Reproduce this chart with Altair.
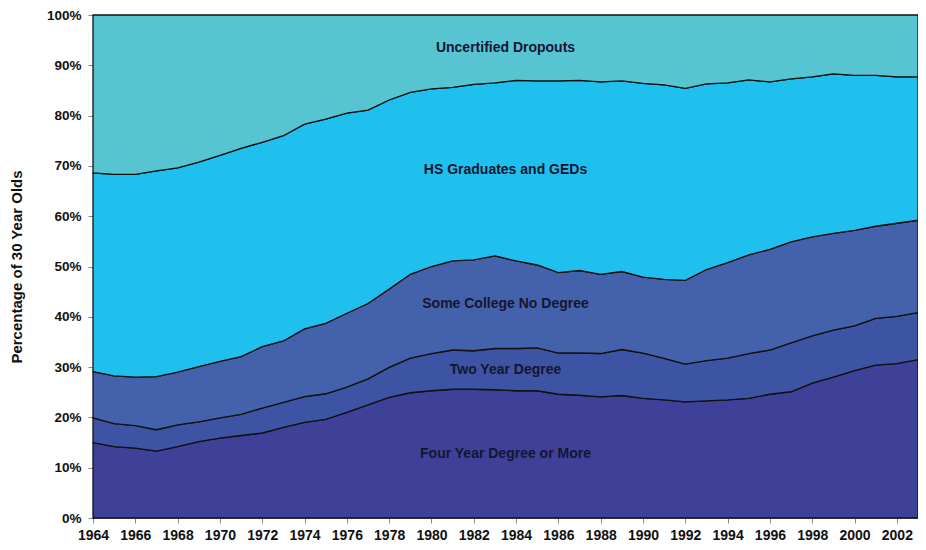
import altair as alt
import pandas as pd

years = list(range(1964, 2004))

four_year = [15.0, 14.2, 13.9, 13.3, 14.2, 15.2, 15.9, 16.4, 16.9, 18.0,
             19.0, 19.6, 21.0, 22.5, 24.0, 24.9, 25.3, 25.6, 25.6, 25.5,
             25.3, 25.3, 24.6, 24.4, 24.1, 24.35, 23.8, 23.5, 23.1, 23.3,
             23.5, 23.8, 24.6, 25.1, 26.8, 28.0, 29.3, 30.4, 30.7, 31.5]

two_year = [4.9, 4.55, 4.45, 4.25, 4.3, 3.9, 4.0, 4.2, 4.95, 5.0,
            5.15, 5.1, 5.0, 5.15, 5.95, 6.9, 7.4, 7.8, 7.65, 8.2,
            8.4, 8.5, 8.2, 8.4, 8.6, 9.15, 9.0, 8.25, 7.5, 8.0,
            8.3, 8.9, 8.8, 9.7, 9.4, 9.35, 8.9, 9.3, 9.4, 9.35]

some_college = [9.2, 9.5, 9.65, 10.55, 10.5, 11.0, 11.25, 11.5, 12.2, 12.2,
                13.45, 14.0, 14.7, 15.0, 15.55, 16.65, 17.3, 17.7, 18.05, 18.4,
                17.4, 16.5, 16.0, 16.4, 15.75, 15.5, 15.1, 15.7, 16.65, 18.1,
                18.95, 19.6, 20.0, 20.1, 19.7, 19.25, 19.0, 18.3, 18.5, 18.35]

hs_ged = [39.5, 40.05, 40.3, 40.9, 40.6, 40.65, 40.95, 41.4, 40.65, 40.8,
          40.7, 40.6, 39.8, 38.45, 37.6, 36.15, 35.3, 34.5, 34.9, 34.4,
          35.9, 36.6, 38.1, 37.8, 38.25, 37.9, 38.5, 38.65, 38.15, 36.9,
          35.75, 34.8, 33.3, 32.4, 31.8, 31.7, 30.8, 30.0, 29.1, 28.5]

dropouts = [31.4, 31.7, 31.7, 31.0, 30.4, 29.25, 27.9, 26.5, 25.3, 24.0,
            21.7, 20.7, 19.5, 18.9, 16.9, 15.4, 14.7, 14.4, 13.8, 13.5,
            13.0, 13.1, 13.1, 13.0, 13.3, 13.1, 13.6, 13.9, 14.6, 13.7,
            13.5, 12.9, 13.3, 12.7, 12.3, 11.7, 12.0, 12.0, 12.3, 12.3]

categories = ["Four Year Degree or More", "Two Year Degree",
              "Some College No Degree", "HS Graduates and GEDs",
              "Uncertified Dropouts"]
colors = ["#3F4199", "#3D54A4", "#4462AC", "#1FBFEE", "#57C4D2"]

# label anchor points (year, percent) for the in-chart category labels
label_years = [1983.5, 1983.5, 1983.5, 1983.5, 1983.5]
label_pcts = [12.7, 29.5, 42.6, 69.1, 93.5]

series = [four_year, two_year, some_college, hs_ged, dropouts]
rows = []
for ci, (cat, vals) in enumerate(zip(categories, series)):
    for yr, v in zip(years, vals):
        rows.append({"year": yr, "pct": v, "cat": cat, "order": ci})
df = pd.DataFrame(rows)

lab_df = pd.DataFrame({"year": label_years, "pct": label_pcts, "cat": categories})

FONT = "Liberation Sans"

x_enc = alt.X("year:Q",
              scale=alt.Scale(domain=[1964, 2003], nice=False, zero=False),
              axis=alt.Axis(values=years, format="d",
                            labelExpr="datum.value % 2 == 0 ? datum.label : ''",
                            title=None, grid=False, tickSize=5,
                            tickColor="#888", domainColor="#888",
                            labelFont=FONT, labelFontWeight="bold",
                            labelFontSize=14, labelColor="#111",
                            labelPadding=5, labelOverlap=False, labelFlush=False))

areas = alt.Chart(df).mark_area(stroke="#111", strokeWidth=1.3, interpolate="linear").encode(
    x=x_enc,
    y=alt.Y("pct:Q", stack="zero",
            scale=alt.Scale(domain=[0, 100], nice=False),
            axis=alt.Axis(values=list(range(0, 101, 10)),
                          labelExpr="datum.value + '%'",
                          title="Percentage of 30 Year Olds",
                          titleFont=FONT, titleFontWeight="bold",
                          titleFontSize=15, titleColor="#111",
                          titlePadding=22,
                          grid=False, tickSize=5, tickColor="#888",
                          domainColor="#888",
                          labelFont=FONT, labelFontWeight="bold",
                          labelFontSize=13.5, labelColor="#111",
                          labelPadding=7)),
    color=alt.Color("cat:N", scale=alt.Scale(domain=categories, range=colors), legend=None),
    order=alt.Order("order:Q"),
)

labels = alt.Chart(lab_df).mark_text(
    font=FONT, fontWeight="bold", fontSize=14, color="#151530",
    align="center", baseline="middle"
).encode(
    x=alt.X("year:Q"),
    y=alt.Y("pct:Q"),
    text="cat:N",
)

chart = alt.layer(areas, labels).properties(
    width=825, height=503,
    autosize=alt.AutoSizeParams(type="none"),
    padding={"left": 85, "top": 7, "right": 0, "bottom": 23},
).configure_view(stroke="#888", strokeWidth=1).configure(background="white")

chart.save("out.html", embed_options={"renderer": "svg", "actions": False})
